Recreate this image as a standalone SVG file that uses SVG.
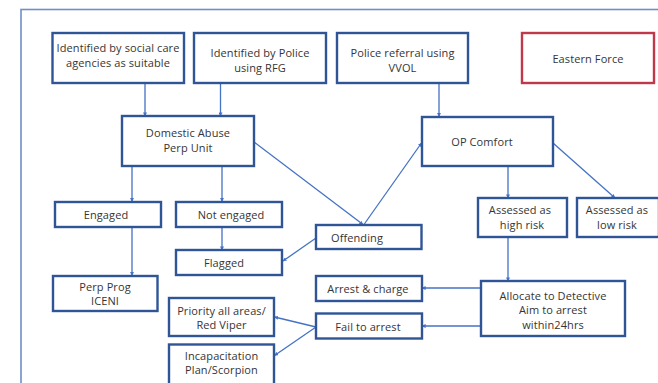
<svg xmlns="http://www.w3.org/2000/svg" width="658" height="383" viewBox="0 0 658 383">
<defs>
<marker id="ah" viewBox="0 0 10 10" refX="9" refY="5" markerWidth="4" markerHeight="4" orient="auto" markerUnits="userSpaceOnUse">
<path d="M0,0 L10,5 L0,10 z" fill="#4472c4"/>
</marker>
</defs>
<style>
.box{fill:#fff;stroke:#2f5597;stroke-width:2.4}
.red{fill:#fff;stroke:#c0394b;stroke-width:2.4}
.t{font-family:"Open Sans","Liberation Sans",sans-serif;font-size:11px;letter-spacing:0.1px;fill:#353535;text-anchor:middle}
.c{fill:none;stroke:#4472c4;stroke-width:1.3;marker-end:url(#ah)}
.frame{fill:none;stroke:#6f8fc8;stroke-width:1.6}
</style>
<rect width="658" height="383" fill="#fff"/>
<rect class="frame" x="21" y="9.5" width="660" height="400"/>
<g id="connectors">
<path class="c" d="M145,83 V116"/>
<path class="c" d="M220.5,83 V116"/>
<path class="c" d="M439,83 V116.5"/>
<path class="c" d="M132,166 V201.5"/>
<path class="c" d="M222,166 V201.5"/>
<path class="c" d="M222,227 V250"/>
<path class="c" d="M132,227 V275.5"/>
<path class="c" d="M254,142 L363,224.5"/>
<path class="c" d="M364,224.5 L421.5,143"/>
<path class="c" d="M316,238 L283,261"/>
<path class="c" d="M508,166 V198"/>
<path class="c" d="M553,143 L615,198"/>
<path class="c" d="M508,237 V281"/>
<path class="c" d="M481,288 H422"/>
<path class="c" d="M481,326 H422"/>
<path class="c" d="M316,327 L274.5,317"/>
<path class="c" d="M316,327 L274.5,355.5"/>
</g>
<g id="n-social"><rect class="box" x="52.5" y="33" width="131.5" height="50"/><text class="t" x="118" y="52">Identified by social care</text><text class="t" x="118" y="67">agencies as suitable</text></g>
<g id="n-police"><rect class="box" x="194" y="33" width="132" height="50"/><text class="t" x="260" y="57">Identified by Police</text><text class="t" x="260" y="72">using RFG</text></g>
<g id="n-vvol"><rect class="box" x="337" y="33" width="131" height="50"/><text class="t" x="402.5" y="57">Police referral using</text><text class="t" x="402.5" y="72">VVOL</text></g>
<g id="n-eastern"><rect class="red" x="522" y="33" width="132" height="50"/><text class="t" x="588" y="63">Eastern Force</text></g>
<g id="n-dapu"><rect class="box" x="122" y="116" width="132" height="50"/><text class="t" x="188" y="137">Domestic Abuse</text><text class="t" x="188" y="152">Perp Unit</text></g>
<g id="n-opcomfort"><rect class="box" x="422" y="117" width="131" height="49"/><text class="t" x="482" y="146">OP Comfort</text></g>
<g id="n-engaged"><rect class="box" x="55" y="202" width="106" height="25"/><text class="t" x="106" y="219">Engaged</text></g>
<g id="n-notengaged"><rect class="box" x="176" y="202" width="106" height="25"/><text class="t" x="231" y="219">Not engaged</text></g>
<g id="n-flagged"><rect class="box" x="176" y="250" width="106" height="25"/><text class="t" x="224" y="267">Flagged</text></g>
<g id="n-offending"><rect class="box" x="316" y="225" width="105.5" height="24"/><text class="t" x="357" y="241.5">Offending</text></g>
<g id="n-high"><rect class="box" x="478" y="198" width="89" height="39"/><text class="t" x="520" y="214">Assessed as</text><text class="t" x="522" y="229">high risk</text></g>
<g id="n-low"><rect class="box" x="577" y="198" width="82" height="39"/><text class="t" x="617" y="214">Assessed as</text><text class="t" x="617" y="229">low risk</text></g>
<g id="n-perpprog"><rect class="box" x="53" y="276" width="104.5" height="35"/><text class="t" x="105" y="291">Perp Prog</text><text class="t" x="105" y="305">ICENI</text></g>
<g id="n-arrest"><rect class="box" x="316" y="276" width="106" height="25"/><text class="t" x="368" y="293">Arrest &amp; charge</text></g>
<g id="n-fail"><rect class="box" x="316" y="313.5" width="106" height="25"/><text class="t" x="368" y="330.5">Fail to arrest</text></g>
<g id="n-allocate"><rect class="box" x="481" y="281" width="144" height="55"/><text class="t" x="553" y="300">Allocate to Detective</text><text class="t" x="553" y="314">Aim to arrest</text><text class="t" x="553" y="329">within24hrs</text></g>
<g id="n-priority"><rect class="box" x="169" y="298" width="105" height="38"/><text class="t" x="221.5" y="315">Priority all areas/</text><text class="t" x="221.5" y="329">Red Viper</text></g>
<g id="n-incap"><rect class="box" x="169" y="344.5" width="105" height="42"/><text class="t" x="221.5" y="360">Incapacitation</text><text class="t" x="221.5" y="374">Plan/Scorpion</text></g>
</svg>
